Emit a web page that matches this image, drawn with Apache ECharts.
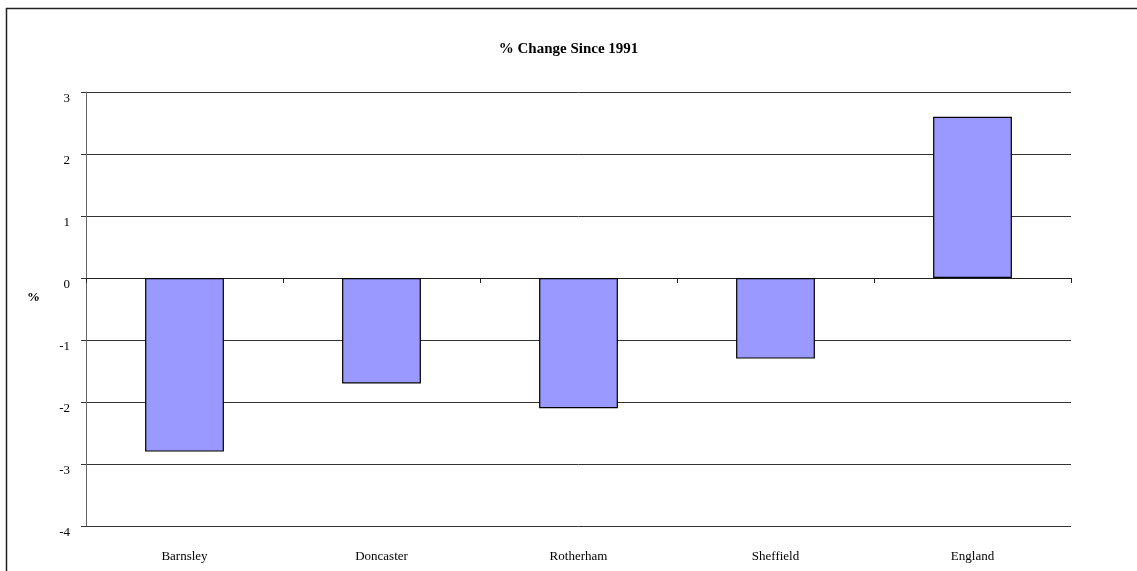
<!DOCTYPE html>
<html>
<head>
<meta charset="utf-8">
<script src="https://cdn.jsdelivr.net/npm/echarts@6/dist/echarts.min.js"></script>
<style>
html,body{margin:0;padding:0;background:#fff;}
#c{width:1137px;height:571px;}
</style>
</head>
<body>
<div id="c"></div>
<script>
const categories = ['Barnsley', 'Doncaster', 'Rotherham', 'Sheffield', 'England'];
const changeValues = [-2.8, -1.7, -2.1, -1.3, 2.6];
const titleText = '% Change Since 1991';
const yAxisName = '%';

const font = '"Liberation Serif", "Times New Roman", serif';
const chart = echarts.init(document.getElementById('c'), null, {renderer: 'canvas'});
chart.setOption({
  animation: false,
  backgroundColor: '#fff',
  title: {
    text: titleText, left: 'center', top: 37,
    textStyle: {fontFamily: font, fontWeight: 'bold', fontSize: 15, color: '#000'}
  },
  graphic: [
    {type: 'rect', shape: {x: 6.5, y: 8.5, width: 1200, height: 700},
     style: {fill: 'none', stroke: '#222', lineWidth: 1.5}, silent: true},
    {type: 'text', left: 27, top: 291,
     style: {text: yAxisName, font: 'bold 13px ' + font, fill: '#000'}}
  ],
  grid: {left: 86, right: 66, top: 92, bottom: 45, containLabel: false},
  xAxis: [
    {type: 'category', data: categories, position: 'bottom',
     axisLine: {show: false, onZero: false}, axisTick: {show: false},
     axisLabel: {fontFamily: font, fontSize: 13, color: '#000', margin: 24},
     splitLine: {show: false}},
    {type: 'category', data: categories, position: 'top',
     axisLine: {show: true, onZero: true, lineStyle: {color: '#222', width: 1}},
     axisTick: {show: true, inside: true, length: 5, lineStyle: {color: '#222'}},
     axisLabel: {show: false}, splitLine: {show: false}}
  ],
  yAxis: {
    type: 'value', min: -4, max: 3, interval: 1,
    axisLine: {show: true, lineStyle: {color: '#666', width: 1}},
    axisTick: {show: true, length: 5, lineStyle: {color: '#333'}},
    axisLabel: {fontFamily: font, fontSize: 13, color: '#000', margin: 16, verticalAlign: 'top'},
    splitLine: {show: true, lineStyle: {color: '#333', width: 1}}
  },
  series: [{
    type: 'bar', data: changeValues, xAxisIndex: 0,
    barWidth: '40%',
    itemStyle: {color: '#9999FF', borderColor: '#000', borderWidth: 1.2}
  }]
});
</script>
</body>
</html>
